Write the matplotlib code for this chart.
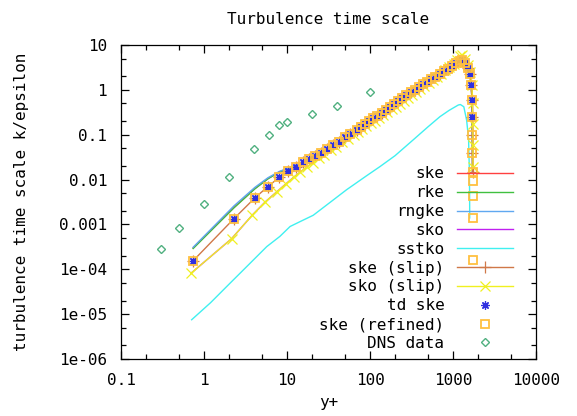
import matplotlib
matplotlib.use("Agg")
import matplotlib.pyplot as plt
from matplotlib.ticker import LogLocator, FixedLocator, FixedFormatter, NullFormatter

plt.rcParams["font.family"] = ["DejaVu Sans Mono"]

# y+ grid shared by the k-epsilon family (near wall part + outer part)
yplus_wall = [0.74, 2.3, 4.1, 5.9, 8.1, 10.4, 12.9, 15.6]
yplus_outer = [18.5, 22, 26, 30, 36, 42, 50, 58, 69, 77, 87, 97, 110, 123, 138,
               155, 174, 195, 219, 245, 275, 309, 346, 388, 435, 488, 548, 614,
               689, 773, 867, 972, 1090, 1200, 1273, 1400, 1510, 1600, 1660,
               1690, 1705, 1712, 1716, 1719]

# k/epsilon values
outer_vals = [0.029, 0.034, 0.040, 0.047, 0.058, 0.070, 0.087, 0.103, 0.128,
              0.147, 0.172, 0.198, 0.232, 0.268, 0.31, 0.36, 0.42, 0.49, 0.57,
              0.66, 0.76, 0.88, 1.01, 1.16, 1.33, 1.52, 1.74, 1.98, 2.25, 2.57,
              2.95, 3.4, 3.9, 4.4, 4.7, 3.9, 3.0, 2.2, 1.3, 0.6, 0.25, 0.1,
              0.04, 0.015]
ske_wall = [3.0e-4, 2.4e-3, 6.3e-3, 0.0105, 0.0148, 0.0178, 0.0208, 0.0250]
rke_wall = [2.9e-4, 2.35e-3, 6.2e-3, 0.0104, 0.0147, 0.0177, 0.0207, 0.0249]
rngke_wall = [3.1e-4, 2.6e-3, 6.7e-3, 0.0110, 0.0152, 0.0180, 0.0210, 0.0251]
slip_wall = [1.55e-4, 1.35e-3, 3.9e-3, 7.0e-3, 0.0113, 0.0156, 0.0195, 0.0244]

# refined mesh has a few more points at the centre
refined_tail_yplus = [1721, 1722, 1723, 1724]
refined_tail_vals = [9.3e-3, 4.3e-3, 1.4e-3, 1.6e-4]

# k-omega with slip
yplus_sko = [0.70, 2.15, 3.8, 5.5, 7.5, 9.7, 12.0, 14.5, 17.2, 20.5, 24.2, 28,
             33.5, 39, 46.5, 54, 64, 72, 81, 90, 102, 114, 128, 144, 162, 182,
             204, 228, 256, 287, 322, 361, 405, 453, 510, 571, 641, 719, 807,
             904, 1014, 1120, 1230, 1290, 1400, 1520, 1620, 1690, 1720, 1735,
             1742, 1746]
sko_vals = [8.2e-5, 4.8e-4, 1.6e-3, 3.2e-3, 5.3e-3, 8.0e-3, 0.0112, 0.0148,
            0.0188, 0.0238, 0.0295, 0.0355, 0.0445, 0.054, 0.068, 0.082, 0.101,
            0.117, 0.135, 0.154, 0.18, 0.205, 0.235, 0.27, 0.315, 0.365, 0.42,
            0.49, 0.57, 0.66, 0.77, 0.9, 1.05, 1.22, 1.43, 1.67, 1.96, 2.3,
            2.72, 3.2, 3.8, 4.6, 5.6, 6.0, 5.0, 3.6, 2.5, 1.3, 0.5, 0.17, 0.06,
            0.019]

# SST k-omega
yplus_sst = [0.71, 1.2, 2.06, 3.5, 5.7, 8.2, 10.9, 15, 20.7, 36, 52, 90, 132,
             200, 331, 500, 697, 900, 1160, 1230, 1350, 1460, 1540, 1570, 1585,
             1590]
sst_vals = [7.5e-6, 1.8e-5, 4.9e-5, 1.3e-4, 3.2e-4, 5.4e-4, 9e-4, 1.2e-3,
            1.6e-3, 3.5e-3, 5.9e-3, 0.012, 0.0195, 0.034, 0.0766, 0.15, 0.253,
            0.35, 0.46, 0.47, 0.42, 0.21, 0.08, 0.02, 5e-3, 1.4e-3]

# DNS
yplus_dns = [0.3, 0.5, 1, 2, 4, 6, 8, 10, 20, 40, 100]
dns_vals = [2.86e-4, 8.3e-4, 2.9e-3, 0.0117, 0.048, 0.0975, 0.168, 0.193,
            0.29, 0.44, 0.91]

yplus = yplus_wall + yplus_outer
ske = ske_wall + outer_vals
rke = rke_wall + outer_vals
rngke = rngke_wall + outer_vals
ske_slip = slip_wall + outer_vals
yplus_ref = yplus + refined_tail_yplus
ske_ref = ske_slip + refined_tail_vals

fs = 11.5

fig = plt.figure(figsize=(5.77, 4.16), dpi=100)
ax = fig.add_axes([121 / 577, 1 - 359 / 416, 415 / 577, 314 / 416])

lw = 1.0
ax.plot(yplus, ske, color="#FF4040", lw=lw, label="ske")
ax.plot(yplus, rke, color="#40C040", lw=lw, label="rke")
ax.plot(yplus, rngke, color="#60A8F0", lw=lw, label="rngke")
ax.plot(yplus_sko, sko_vals, color="#C020F0", lw=lw, label="sko")
ax.plot(yplus_sst, sst_vals, color="#40F0F0", lw=lw, label="sstko")
ax.plot(yplus, ske_slip, color="#D07848", lw=lw, marker="+", ms=8, mew=0.9,
        label="ske (slip)")
ax.plot(yplus_sko, sko_vals, color="#F0F020", lw=lw, marker="x", ms=7, mew=0.9,
        label="sko (slip)")
ax.plot(yplus[:-3], ske_slip[:-3], ls="none", color="#3030E0", marker=(8, 2, 0),
        ms=6, mew=0.9, label="td ske")
ax.plot(yplus_ref, ske_ref, ls="none", marker="s", ms=5.5, mfc="none",
        mec="#FFC040", mew=1.3, label="ske (refined)")
ax.plot(yplus_dns, dns_vals, ls="none", marker="D", ms=4.5, mfc="none",
        mec="#50B080", mew=1.0, label="DNS data")

ax.set_xscale("log")
ax.set_yscale("log")
ax.set_xlim(0.1, 10000)
ax.set_ylim(1e-6, 10)

xt = [0.1, 1, 10, 100, 1000, 10000]
xt_labels = ["0.1", "1", "10", "100", "1000", "10000"]
yt = [1e-6, 1e-5, 1e-4, 1e-3, 1e-2, 0.1, 1, 10]
yt_labels = ["1e-06", "1e-05", "1e-04", "0.001", "0.01", "0.1", "1", "10"]
ax.xaxis.set_major_locator(FixedLocator(xt))
ax.xaxis.set_major_formatter(FixedFormatter(xt_labels))
ax.yaxis.set_major_locator(FixedLocator(yt))
ax.yaxis.set_major_formatter(FixedFormatter(yt_labels))
ax.xaxis.set_minor_locator(LogLocator(base=10, subs=(2, 5)))
ax.yaxis.set_minor_locator(LogLocator(base=10, subs=(2, 5)))
ax.xaxis.set_minor_formatter(NullFormatter())
ax.yaxis.set_minor_formatter(NullFormatter())
ax.tick_params(which="both", direction="in", top=True, right=True,
               labelsize=fs, pad=10)
ax.tick_params(which="major", length=6, width=0.9)
ax.tick_params(which="minor", length=3.5, width=0.9)
for s in ax.spines.values():
    s.set_linewidth(0.9)

ax.set_title("Turbulence time scale", fontsize=fs, pad=15)
ax.set_xlabel("y+", fontsize=fs)
ax.set_ylabel("turbulence time scale k/epsilon", fontsize=fs)
ax.xaxis.set_label_coords(0.5, (359 - 403) / 314, transform=ax.transAxes)
ax.yaxis.set_label_coords((22 - 121) / 415, 0.5, transform=ax.transAxes)
ax.xaxis.label.set_va("center")
ax.yaxis.label.set_va("center")

leg = ax.legend(loc="lower right", bbox_to_anchor=(513 / 577, 1 - 351 / 416),
                bbox_transform=fig.transFigure, frameon=False, markerfirst=False,
                fontsize=fs, handlelength=3.5, handletextpad=0.8,
                labelspacing=0.24, borderpad=0, borderaxespad=0)

fig.savefig("out.png", dpi=100)
